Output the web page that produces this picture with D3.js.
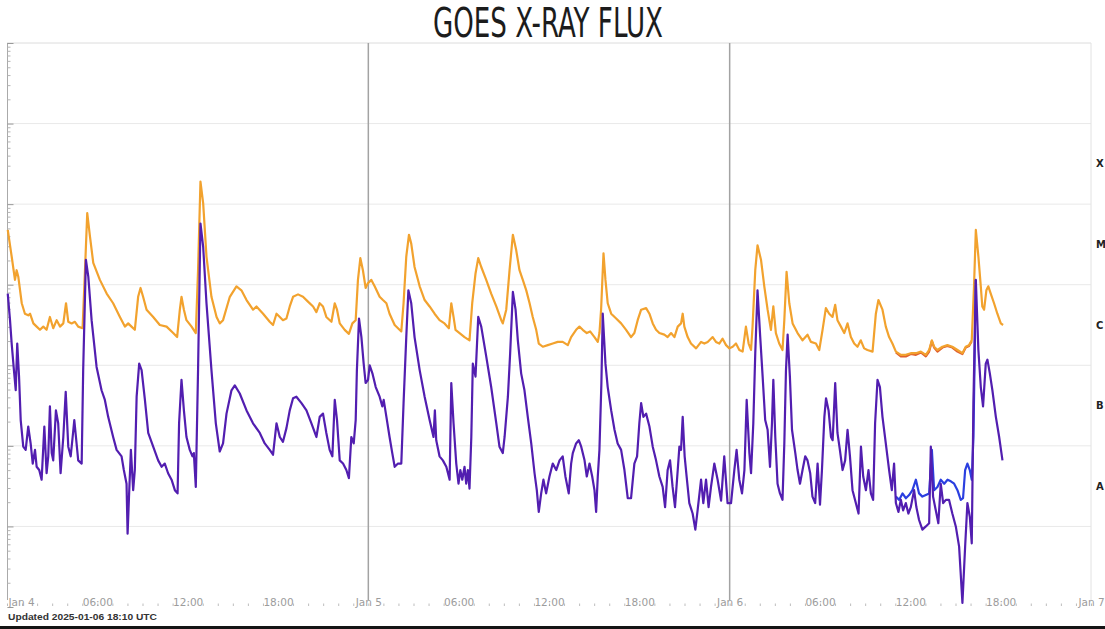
<!DOCTYPE html>
<html>
<head>
<meta charset="utf-8" />
<title>GOES X-Ray Flux</title>
<script src="https://cdn.jsdelivr.net/npm/d3@7"></script>
<style>
  body { margin: 0; background: #fff; }
  svg { display: block; }
</style>
</head>
<body>
<div id="chart"></div>
<script>
  // [hours since 2025-01-04 00:00 UTC, log10 flux (W/m^2)]
  var longPrimary = [[0.05,-4.32],[0.31,-4.65],[0.53,-4.94],[0.64,-4.82],[0.75,-4.90],[0.98,-5.23],[1.19,-5.36],[1.41,-5.38],[1.53,-5.36],[1.75,-5.48],[1.97,-5.52],[2.19,-5.56],[2.41,-5.52],[2.63,-5.56],[2.85,-5.40],[3.07,-5.54],[3.30,-5.44],[3.52,-5.52],[3.74,-5.48],[3.92,-5.23],[4.07,-5.46],[4.29,-5.48],[4.51,-5.46],[4.73,-5.52],[5.02,-5.54],[5.18,-4.82],[5.33,-4.11],[5.51,-4.40],[5.73,-4.73],[6.17,-4.94],[6.62,-5.11],[7.05,-5.23],[7.50,-5.40],[7.83,-5.52],[8.05,-5.48],[8.27,-5.52],[8.49,-5.56],[8.71,-5.15],[8.87,-5.04],[9.04,-5.15],[9.27,-5.31],[9.71,-5.40],[10.15,-5.50],[10.60,-5.52],[11.04,-5.60],[11.30,-5.65],[11.48,-5.31],[11.59,-5.15],[11.75,-5.31],[11.92,-5.44],[12.26,-5.52],[12.54,-5.60],[12.69,-4.82],[12.85,-3.72],[13.03,-3.99],[13.25,-4.65],[13.58,-5.15],[13.92,-5.40],[14.13,-5.48],[14.35,-5.44],[14.80,-5.15],[15.24,-5.02],[15.57,-5.07],[15.91,-5.19],[16.34,-5.31],[16.57,-5.27],[17.01,-5.36],[17.45,-5.46],[17.67,-5.50],[17.90,-5.36],[18.12,-5.40],[18.33,-5.44],[18.56,-5.42],[18.78,-5.27],[19.00,-5.15],[19.33,-5.12],[19.66,-5.15],[19.99,-5.21],[20.33,-5.27],[20.55,-5.34],[20.77,-5.23],[20.99,-5.27],[21.21,-5.40],[21.55,-5.46],[21.77,-5.23],[21.92,-5.31],[22.10,-5.48],[22.43,-5.56],[22.71,-5.61],[22.94,-5.48],[23.16,-5.44],[23.31,-4.94],[23.47,-4.67],[23.64,-4.82],[23.82,-5.04],[23.98,-4.98],[24.20,-4.94],[24.42,-5.02],[24.75,-5.15],[24.97,-5.19],[25.20,-5.23],[25.41,-5.36],[25.75,-5.50],[26.19,-5.58],[26.34,-5.23],[26.52,-4.65],[26.70,-4.38],[26.85,-4.49],[27.07,-4.78],[27.41,-5.02],[27.74,-5.19],[28.07,-5.27],[28.40,-5.36],[28.73,-5.44],[29.06,-5.48],[29.35,-5.54],[29.51,-5.23],[29.66,-5.40],[29.79,-5.56],[30.06,-5.60],[30.39,-5.65],[30.72,-5.69],[30.90,-5.23],[31.12,-4.86],[31.30,-4.67],[31.50,-4.78],[31.83,-4.94],[32.16,-5.11],[32.50,-5.27],[32.83,-5.44],[32.93,-5.48],[33.16,-5.31],[33.38,-4.82],[33.60,-4.38],[33.82,-4.57],[34.04,-4.82],[34.26,-4.94],[34.49,-5.07],[34.71,-5.23],[34.92,-5.40],[35.15,-5.56],[35.32,-5.73],[35.59,-5.77],[35.92,-5.75],[36.25,-5.73],[36.58,-5.71],[36.91,-5.71],[37.25,-5.75],[37.47,-5.65],[37.80,-5.56],[38.02,-5.52],[38.24,-5.56],[38.51,-5.60],[38.73,-5.58],[39.02,-5.65],[39.24,-5.71],[39.35,-5.60],[39.46,-5.31],[39.62,-4.61],[39.75,-4.94],[39.90,-5.23],[40.13,-5.36],[40.46,-5.42],[40.79,-5.48],[41.12,-5.56],[41.45,-5.65],[41.67,-5.60],[41.89,-5.44],[42.12,-5.31],[42.45,-5.29],[42.67,-5.36],[42.89,-5.48],[43.11,-5.56],[43.33,-5.60],[43.66,-5.62],[43.88,-5.65],[44.11,-5.60],[44.33,-5.65],[44.55,-5.52],[44.77,-5.48],[44.88,-5.36],[44.99,-5.52],[45.21,-5.65],[45.43,-5.73],[45.77,-5.79],[46.10,-5.71],[46.32,-5.73],[46.54,-5.71],[46.87,-5.65],[47.09,-5.71],[47.31,-5.73],[47.53,-5.67],[47.76,-5.75],[47.98,-5.79],[48.20,-5.77],[48.42,-5.73],[48.64,-5.81],[48.86,-5.83],[49.08,-5.52],[49.26,-5.73],[49.42,-5.81],[49.52,-5.52],[49.70,-4.82],[49.85,-4.51],[50.08,-4.69],[50.30,-5.02],[50.52,-5.31],[50.74,-5.56],[50.90,-5.27],[51.07,-5.60],[51.29,-5.73],[51.51,-5.81],[51.63,-5.44],[51.78,-4.84],[51.96,-5.23],[52.18,-5.48],[52.51,-5.60],[52.84,-5.69],[53.17,-5.62],[53.40,-5.71],[53.73,-5.73],[53.95,-5.81],[54.17,-5.56],[54.39,-5.29],[54.61,-5.36],[54.83,-5.40],[55.01,-5.25],[55.16,-5.44],[55.39,-5.52],[55.61,-5.60],[55.83,-5.48],[56.05,-5.65],[56.27,-5.73],[56.49,-5.77],[56.71,-5.69],[56.93,-5.79],[57.15,-5.81],[57.49,-5.83],[57.71,-5.36],[57.88,-5.19],[58.15,-5.31],[58.37,-5.52],[58.59,-5.65],[58.81,-5.73],[59.04,-5.83],[59.37,-5.87],[59.70,-5.87],[60.03,-5.85],[60.37,-5.85],[60.70,-5.83],[61.03,-5.87],[61.25,-5.81],[61.43,-5.69],[61.58,-5.77],[61.80,-5.81],[62.13,-5.77],[62.46,-5.75],[62.79,-5.77],[63.13,-5.81],[63.46,-5.85],[63.68,-5.77],[63.90,-5.75],[64.08,-5.69],[64.23,-5.02],[64.35,-4.32],[64.52,-4.65],[64.68,-5.02],[64.78,-5.27],[64.90,-5.31],[65.05,-5.07],[65.18,-5.02],[65.34,-5.11],[65.56,-5.23],[65.78,-5.36],[66.01,-5.48],[66.16,-5.50]];

  var longSecondary = [[59.04,-5.84],[59.37,-5.89],[59.70,-5.89],[60.03,-5.86],[60.37,-5.87],[60.70,-5.84],[61.03,-5.89],[61.25,-5.83],[61.43,-5.70],[61.58,-5.78],[61.80,-5.83],[62.13,-5.78],[62.46,-5.76],[62.79,-5.78],[63.13,-5.83],[63.46,-5.86],[63.68,-5.78],[63.90,-5.76],[64.08,-5.70]];

  var shortPrimary = [[0.05,-5.11],[0.20,-5.44],[0.31,-5.73],[0.46,-6.06],[0.58,-6.31],[0.68,-5.73],[0.80,-6.14],[0.91,-6.68],[1.08,-7.01],[1.24,-7.05],[1.41,-6.76],[1.57,-6.97],[1.71,-7.22],[1.86,-7.05],[1.97,-7.26],[2.14,-7.30],[2.30,-7.42],[2.48,-6.76],[2.63,-7.34],[2.74,-7.13],[2.85,-6.51],[2.97,-7.09],[3.07,-7.18],[3.25,-6.56],[3.40,-6.72],[3.56,-7.34],[3.74,-6.89],[3.90,-6.33],[4.07,-7.01],[4.23,-7.13],[4.36,-6.89],[4.47,-6.68],[4.58,-6.89],[4.73,-7.18],[4.96,-7.22],[5.06,-6.06],[5.24,-4.69],[5.40,-4.90],[5.62,-5.44],[5.95,-6.02],[6.28,-6.31],[6.50,-6.43],[6.72,-6.64],[7.05,-6.89],[7.28,-7.05],[7.61,-7.13],[7.76,-7.30],[7.94,-7.47],[8.01,-8.09],[8.12,-7.55],[8.23,-7.05],[8.38,-7.55],[8.49,-7.30],[8.61,-6.39],[8.78,-5.98],[8.94,-6.06],[9.16,-6.43],[9.38,-6.84],[9.71,-7.01],[10.04,-7.18],[10.27,-7.26],[10.48,-7.22],[10.70,-7.34],[10.93,-7.42],[11.15,-7.55],[11.33,-7.59],[11.43,-6.72],[11.59,-6.18],[11.75,-6.56],[11.92,-6.89],[12.14,-7.05],[12.32,-7.13],[12.41,-7.09],[12.54,-7.51],[12.69,-6.06],[12.85,-4.24],[13.03,-4.53],[13.25,-5.23],[13.58,-6.06],[13.87,-6.72],[14.13,-7.07],[14.35,-6.97],[14.58,-6.60],[14.91,-6.31],[15.13,-6.25],[15.46,-6.35],[15.91,-6.56],[16.34,-6.72],[16.79,-6.84],[17.12,-6.97],[17.45,-7.05],[17.67,-7.11],[17.90,-6.72],[18.12,-6.89],[18.33,-6.95],[18.56,-6.78],[18.78,-6.56],[19.00,-6.41],[19.22,-6.39],[19.56,-6.47],[19.89,-6.56],[20.22,-6.72],[20.55,-6.89],[20.77,-6.64],[20.99,-6.60],[21.21,-6.84],[21.43,-7.05],[21.61,-7.13],[21.77,-6.43],[21.92,-6.68],[22.10,-7.18],[22.32,-7.22],[22.54,-7.30],[22.71,-7.40],[22.87,-6.89],[23.03,-6.97],[23.16,-6.68],[23.24,-6.06],[23.38,-5.42],[23.54,-5.65],[23.69,-5.98],[23.82,-6.22],[23.98,-6.18],[24.09,-6.00],[24.27,-6.10],[24.49,-6.27],[24.75,-6.39],[24.93,-6.51],[25.02,-6.43],[25.20,-6.64],[25.41,-6.89],[25.59,-7.09],[25.75,-7.26],[25.97,-7.22],[26.19,-7.22],[26.34,-6.47],[26.52,-5.65],[26.66,-5.07],[26.85,-5.23],[27.07,-5.65],[27.41,-6.06],[27.74,-6.39],[28.07,-6.68],[28.33,-6.89],[28.42,-6.56],[28.51,-6.93],[28.73,-7.13],[28.95,-7.18],[29.18,-7.26],[29.40,-7.42],[29.51,-6.22],[29.66,-6.72],[29.84,-7.22],[29.99,-7.47],[30.11,-7.30],[30.24,-7.42],[30.39,-7.26],[30.50,-7.47],[30.61,-7.30],[30.72,-7.53],[30.84,-6.89],[30.94,-5.98],[31.12,-6.14],[31.30,-5.40],[31.50,-5.52],[31.83,-5.89],[32.16,-6.27],[32.50,-6.72],[32.71,-7.01],[32.93,-7.09],[33.05,-6.89],[33.27,-6.39],[33.42,-5.85],[33.60,-5.09],[33.78,-5.31],[33.93,-5.69],[34.15,-6.10],[34.37,-6.31],[34.59,-6.64],[34.82,-6.97],[35.04,-7.34],[35.19,-7.55],[35.32,-7.82],[35.48,-7.59],[35.63,-7.42],[35.81,-7.59],[36.03,-7.38],[36.25,-7.22],[36.48,-7.30],[36.70,-7.18],[36.91,-7.13],[37.09,-7.38],[37.31,-7.59],[37.47,-7.22],[37.58,-7.09],[37.80,-6.97],[37.98,-6.93],[38.14,-7.01],[38.36,-7.18],[38.51,-7.38],[38.69,-7.22],[38.87,-7.38],[39.02,-7.55],[39.13,-7.82],[39.24,-7.38],[39.35,-7.05],[39.48,-6.22],[39.57,-5.36],[39.75,-5.98],[39.90,-6.27],[40.13,-6.56],[40.35,-6.80],[40.56,-6.97],[40.79,-7.05],[41.01,-7.30],[41.23,-7.65],[41.45,-7.65],[41.67,-7.22],[41.85,-7.13],[42.00,-6.72],[42.12,-6.47],[42.27,-6.64],[42.45,-6.60],[42.67,-6.76],[42.89,-7.01],[43.11,-7.18],[43.33,-7.38],[43.55,-7.51],[43.71,-7.76],[43.88,-7.30],[44.04,-7.18],[44.21,-7.51],[44.37,-7.76],[44.55,-7.30],[44.66,-7.01],[44.77,-7.05],[44.88,-6.64],[45.01,-7.13],[45.14,-7.38],[45.32,-7.71],[45.54,-7.84],[45.72,-8.04],[45.87,-7.80],[46.10,-7.42],[46.25,-7.71],[46.43,-7.42],[46.60,-7.76],[46.76,-7.51],[46.98,-7.22],[47.20,-7.42],[47.43,-7.68],[47.64,-7.13],[47.86,-7.71],[48.09,-7.71],[48.31,-7.30],[48.46,-7.05],[48.64,-7.42],[48.82,-7.59],[48.98,-7.30],[49.13,-6.43],[49.31,-7.09],[49.42,-7.34],[49.57,-6.72],[49.70,-5.85],[49.85,-5.07],[50.03,-5.65],[50.19,-6.14],[50.36,-6.68],[50.52,-6.80],[50.68,-7.26],[50.81,-6.72],[50.90,-6.18],[51.03,-6.89],[51.18,-7.47],[51.34,-7.59],[51.51,-7.67],[51.63,-6.97],[51.74,-6.06],[51.85,-5.62],[52.00,-6.14],[52.14,-6.80],[52.36,-7.09],[52.51,-7.30],[52.67,-7.47],[52.84,-7.30],[53.02,-7.13],[53.17,-7.18],[53.35,-7.34],[53.50,-7.63],[53.68,-7.71],[53.84,-7.22],[54.00,-7.73],[54.13,-7.30],[54.29,-6.64],[54.40,-6.41],[54.57,-6.56],[54.73,-6.89],[54.84,-6.93],[55.01,-6.22],[55.16,-6.84],[55.32,-7.05],[55.50,-7.30],[55.67,-7.18],[55.83,-6.80],[55.99,-7.13],[56.16,-7.55],[56.38,-7.71],[56.56,-7.84],[56.72,-7.01],[56.87,-7.38],[57.05,-7.55],[57.22,-7.30],[57.38,-7.59],[57.53,-7.67],[57.66,-6.72],[57.82,-6.18],[57.98,-6.27],[58.15,-6.64],[58.37,-6.97],[58.59,-7.30],[58.77,-7.55],[58.92,-7.22],[59.04,-7.71],[59.21,-7.82],[59.37,-7.67],[59.52,-7.80],[59.70,-7.71],[59.87,-7.84],[60.03,-7.76],[60.25,-7.55],[60.40,-7.76],[60.58,-7.92],[60.80,-8.04],[61.03,-8.00],[61.25,-7.96],[61.36,-7.01],[61.51,-7.63],[61.69,-7.80],[61.86,-7.96],[62.02,-7.47],[62.18,-7.71],[62.36,-7.67],[62.57,-7.67],[62.79,-7.84],[63.02,-8.00],[63.24,-8.25],[63.46,-8.95],[63.64,-8.25],[63.79,-7.71],[63.95,-7.88],[64.08,-8.21],[64.19,-6.47],[64.35,-4.94],[64.52,-5.81],[64.68,-6.27],[64.83,-6.51],[65.01,-5.98],[65.12,-5.93],[65.28,-6.10],[65.45,-6.31],[65.68,-6.64],[65.90,-6.89],[66.12,-7.18]];

  var shortSecondary = [[59.04,-7.63],[59.26,-7.67],[59.48,-7.59],[59.70,-7.65],[59.92,-7.61],[60.14,-7.55],[60.37,-7.42],[60.58,-7.59],[60.80,-7.63],[61.03,-7.61],[61.25,-7.59],[61.43,-7.05],[61.58,-7.55],[61.80,-7.51],[62.02,-7.42],[62.25,-7.47],[62.47,-7.42],[62.69,-7.44],[62.91,-7.47],[63.13,-7.55],[63.35,-7.67],[63.50,-7.65],[63.64,-7.30],[63.79,-7.22],[63.95,-7.30],[64.08,-7.42],[64.19,-6.89],[64.35,-4.94]];

  var flareClasses = ["X", "M", "C", "B", "A"];
  var classFloor = [-4, -5, -6, -7, -8];
  var dayLines = [24, 48];

  var t0 = Date.UTC(2025, 0, 4);
  function toDate(h) { return new Date(t0 + h * 3600e3); }

  var svg = d3.select("#chart").append("svg")
    .attr("width", 1105).attr("height", 629);

  var x = d3.scaleUtc().domain([toDate(0), toDate(72)]).range([7, 1091]);
  var y = d3.scaleLog().domain([1e-9, 1e-2]).range([607, 43]);

  // title
  svg.append("text")
    .attr("x", 548).attr("y", 37)
    .attr("text-anchor", "middle")
    .attr("textLength", 230).attr("lengthAdjust", "spacingAndGlyphs")
    .style("font-family", "'Liberation Sans Narrow', 'DejaVu Sans Condensed', sans-serif")
    .style("font-size", "40px")
    .style("fill", "#1c1c1c")
    .text("GOES X-RAY FLUX");

  // decade gridlines
  var decades = d3.range(-8, -2).map(function (e) { return Math.pow(10, e); });
  svg.append("g").selectAll("line").data(decades).enter().append("line")
    .attr("x1", 7).attr("x2", 1091)
    .attr("y1", (d) => y(d)).attr("y2", (d) => y(d))
    .style("stroke", "#e9e9e9").style("stroke-width", 1);

  // frame top and right
  svg.append("line").attr("x1", 7).attr("x2", 1091)
    .attr("y1", y(1e-2)).attr("y2", y(1e-2))
    .style("stroke", "#dcdcdc");
  svg.append("line").attr("x1", 1091).attr("x2", 1091)
    .attr("y1", y(1e-2)).attr("y2", 600)
    .style("stroke", "#e2e2e2");

  // day separators
  svg.append("g").selectAll("line").data(dayLines).enter().append("line")
    .attr("x1", (d) => x(toDate(d))).attr("x2", (d) => x(toDate(d)))
    .attr("y1", y(1e-2)).attr("y2", 600)
    .style("stroke", "#a3a3a3").style("stroke-width", 1.5);

  // left log axis
  var yAxis = svg.append("g")
    .attr("transform", "translate(7.5,0)")
    .call(d3.axisRight(y).tickValues(y.ticks()).tickSize(3).tickFormat(""));
  yAxis.select(".domain").attr("d", "M0," + y(1e-2) + "V600").style("stroke", "#aaa");
  yAxis.selectAll(".tick line").style("stroke", "#b5b5b5")
    .filter((d) => Math.abs(Math.log10(d) - Math.round(Math.log10(d))) < 1e-6)
    .attr("x2", 6).style("stroke", "#999");

  // hourly ticks along the bottom
  var minor = svg.append("g")
    .attr("transform", "translate(0,606)")
    .call(d3.axisBottom(x).ticks(d3.utcHour.every(1)).tickSize(-2.5).tickFormat(""));
  minor.select(".domain").remove();
  minor.selectAll(".tick line").style("stroke", "#bdbdbd");

  // time labels
  var fmtDay = d3.utcFormat("%b %-d"), fmtHour = d3.utcFormat("%H:%M");
  var xAxis = svg.append("g")
    .attr("transform", "translate(0,599)")
    .call(d3.axisBottom(x).ticks(d3.utcHour.every(6))
      .tickFormat((d) => d.getUTCHours() ? fmtHour(d) : fmtDay(d))
      .tickSize(0).tickPadding(0));
  xAxis.select(".domain").remove();
  xAxis.selectAll("text")
    .style("font-family", "'DejaVu Sans', sans-serif")
    .style("font-size", "10.5px")
    .style("fill", "#9c9c9c");
  xAxis.selectAll(".tick").filter((d, i) => i == 0).select("text")
    .attr("text-anchor", "start").attr("x", 1);

  // flare class letters
  svg.append("g").selectAll("text").data(flareClasses).enter().append("text")
    .attr("x", 1096)
    .attr("y", (d, i) => y(Math.pow(10, classFloor[i] + 0.5)))
    .attr("dy", "0.35em")
    .style("font-family", "'DejaVu Sans', sans-serif")
    .style("font-weight", "bold")
    .style("font-size", "10px")
    .style("fill", "#222")
    .text((d) => d);

  // flux lines
  var line = d3.line()
    .x((d) => x(toDate(d[0])))
    .y((d) => y(Math.pow(10, d[1])));

  var series = [
    { data: longSecondary, color: "#e0602e" },
    { data: longPrimary, color: "#f2a22e" },
    { data: shortSecondary, color: "#2b3fe0" },
    { data: shortPrimary, color: "#521eb0" }
  ];

  svg.append("g").selectAll("path").data(series).enter().append("path")
    .attr("d", (d) => line(d.data))
    .style("fill", "none")
    .style("stroke", (d) => d.color)
    .style("stroke-width", 2.2)
    .style("stroke-linejoin", "round");

  // footer
  svg.append("text")
    .attr("x", 8).attr("y", 620)
    .attr("textLength", 149).attr("lengthAdjust", "spacingAndGlyphs")
    .style("font-family", "'Liberation Sans', Arial, sans-serif")
    .style("font-weight", "bold")
    .style("font-size", "9.5px")
    .style("fill", "#333")
    .text("Updated 2025-01-06 18:10 UTC");

  svg.append("rect")
    .attr("x", 0).attr("y", 626).attr("width", 1105).attr("height", 3)
    .style("fill", "#141414");
</script>
</body>
</html>
